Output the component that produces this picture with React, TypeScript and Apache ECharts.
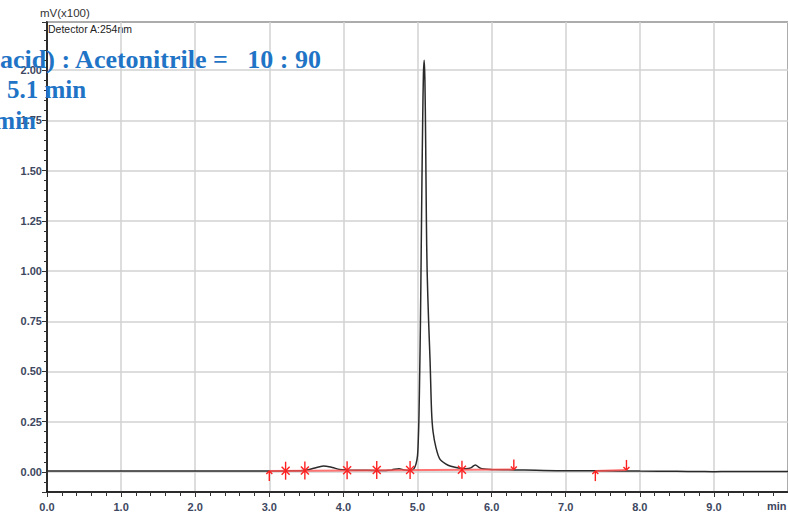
import React, { useEffect, useRef } from "react";
import * as echarts from "echarts";

const traceTimes = [0, 0.5, 1, 1.5, 2, 2.5, 3.0, 3.2, 3.4, 3.5, 3.6, 3.73, 3.85, 3.95, 4.05, 4.3, 4.5, 4.65, 4.75, 4.82, 4.9, 4.95, 4.98, 5.0, 5.01, 5.02, 5.03, 5.04, 5.05, 5.06, 5.07, 5.08, 5.09, 5.1, 5.11, 5.12, 5.13, 5.15, 5.17, 5.19, 5.21, 5.25, 5.3, 5.38, 5.45, 5.55, 5.65, 5.72, 5.78, 5.84, 5.9, 6.0, 6.3, 6.6, 7.0, 7.5, 8.0, 8.5, 8.8, 9.0, 9.2, 9.5, 10];
const traceValues = [0.004, 0.004, 0.004, 0.004, 0.004, 0.004, 0.004, 0.005, 0.006, 0.008, 0.018, 0.03, 0.022, 0.012, 0.01, 0.008, 0.007, 0.01, 0.016, 0.01, 0.008, 0.015, 0.04, 0.08, 0.15, 0.28, 0.5, 0.75, 1.1, 1.45, 1.75, 1.98, 2.05, 1.95, 1.65, 1.25, 1.0, 0.75, 0.55, 0.3, 0.2, 0.12, 0.065, 0.04, 0.028, 0.02, 0.016, 0.02, 0.035, 0.02, 0.014, 0.012, 0.01, 0.008, 0.006, 0.006, 0.004, 0.003, 0.002, 0.001, 0.002, 0.002, 0.002];

const baselineSegments = [
  [[3.0, 0.004], [6.3, 0.012]],
  [[7.4, 0.004], [7.82, 0.01]],
];
// [time, value, kind] kind: 0 = asterisk, 1 = start mark, 2 = end mark
const peakMarks = [
  [3.0, 0.004, 1],
  [3.22, 0.006, 0],
  [3.48, 0.007, 0],
  [4.05, 0.008, 0],
  [4.45, 0.009, 0],
  [4.9, 0.009, 0],
  [5.6, 0.011, 0],
  [6.3, 0.012, 2],
  [7.4, 0.004, 1],
  [7.82, 0.01, 2],
];

const yLabelValues = [0, 0.25, 0.5, 0.75, 1.0, 1.25, 1.5, 1.75, 2.0];

const overlayLines = [
  "acid) : Acetonitrile =   10 : 90",
  "5.1 min",
  "min",
];

export default function App() {
  const ref = useRef<HTMLDivElement>(null);
  useEffect(() => {
    if (!ref.current) return;
    const chart = echarts.init(ref.current, undefined, { renderer: "svg" });
    const tickColor = "#333";
    const labelStyle = { color: "#3d4760", fontSize: 11, fontWeight: "bold", fontFamily: "Liberation Sans, Arial" };
    const blue = "#1f74c6";
    const serif = "Liberation Serif, Times New Roman";
    chart.setOption({
      animation: false,
      backgroundColor: "#fff",
      grid: { left: 47, top: 22, width: 743, bottom: 22, show: true, borderColor: "#000", borderWidth: 1.5, containLabel: false },
      xAxis: {
        type: "value",
        min: 0,
        max: 10,
        interval: 1,
        axisLine: { show: true, onZero: false, lineStyle: { color: "#000", width: 1.5 } },
        axisTick: { show: true, length: 5, lineStyle: { color: tickColor } },
        minorTick: { show: true, splitNumber: 5, length: 4, lineStyle: { color: tickColor } },
        splitLine: { show: true, lineStyle: { color: "#d2d2d2", width: 1.5 } },
        axisLabel: { ...labelStyle, margin: 9, formatter: (v: number) => v.toFixed(1), showMaxLabel: false },
      },
      yAxis: {
        type: "value",
        min: -0.1,
        max: 2.24,
        minInterval: 0.25,
        maxInterval: 0.25,
        splitNumber: 9,
        axisLine: { show: true, lineStyle: { color: "#000", width: 1.5 } },
        axisTick: { show: true, length: 5, lineStyle: { color: tickColor } },
        minorTick: { show: true, splitNumber: 5, length: 3, lineStyle: { color: tickColor } },
        splitLine: { show: true, lineStyle: { color: "#d2d2d2", width: 1.5 } },
        axisLabel: {
          ...labelStyle,
          margin: 5,
          formatter: (v: number) => (yLabelValues.some((t) => Math.abs(t - v) < 1e-6) ? v.toFixed(2) : ""),
        },
      },
      series: [
        {
          type: "line",
          data: traceTimes.map((t, i) => [t, traceValues[i]]),
          showSymbol: false,
          symbol: "none",
          smooth: 0.3,
          lineStyle: { color: "#2a2a2a", width: 1.5 },
          z: 3,
        },
        ...baselineSegments.map((seg) => ({
          type: "line",
          data: seg,
          symbol: "none",
          lineStyle: { color: "#ff5050", width: 2, opacity: 0.8 },
          z: 4,
        })),
        {
          type: "custom",
          data: peakMarks,
          z: 5,
          renderItem: (params: any, api: any) => {
            const p = api.coord([api.value(0), api.value(1)]);
            const kind = api.value(2);
            const x = p[0];
            const y = p[1];
            const st = { stroke: "#ff2020", lineWidth: 1.4, fill: "none" };
            const lines: any[] = [];
            const L = (x1: number, y1: number, x2: number, y2: number) =>
              lines.push({ type: "line", shape: { x1, y1, x2, y2 }, style: st });
            if (kind === 0) {
              L(x, y - 9, x, y + 9);
              L(x - 4, y - 4, x + 4, y + 4);
              L(x - 4, y + 4, x + 4, y - 4);
            } else if (kind === 1) {
              L(x, y, x, y + 10);
              L(x - 3, y + 3, x, y);
              L(x + 3, y + 3, x, y);
            } else {
              L(x, y - 10, x, y);
              L(x - 3, y - 3, x, y);
              L(x + 3, y - 3, x, y);
            }
            return { type: "group", children: lines };
          },
        },
      ],
      graphic: [
        { type: "text", left: 40, top: 7, style: { text: "mV(x100)", fontSize: 11.5, fill: "#333", fontFamily: "Liberation Sans, Arial" } },
        { type: "text", left: 48, top: 23, style: { text: "Detector A:254nm", fontSize: 10.5, fill: "#222", fontFamily: "Liberation Sans, Arial" } },
        { type: "text", left: 767, top: 500, style: { text: "min", fontSize: 11, fontWeight: "bold", fill: "#3d4760", fontFamily: "Liberation Sans, Arial" } },
        { type: "text", x: 0, y: 59, z: 100, style: { text: overlayLines[0], font: `bold 26px ${serif}`, fill: blue, verticalAlign: "middle" } },
        { type: "text", x: 7, y: 89, z: 100, style: { text: overlayLines[1], font: `bold 25px ${serif}`, fill: blue, verticalAlign: "middle" } },
        { type: "text", x: 36, y: 120, z: 100, style: { text: overlayLines[2], font: `bold 25px ${serif}`, fill: blue, verticalAlign: "middle", align: "right" } },
      ],
    });
    return () => chart.dispose();
  }, []);
  return <div ref={ref} style={{ width: 788, height: 514, position: "absolute", left: 0, top: 0 }} />;
}
